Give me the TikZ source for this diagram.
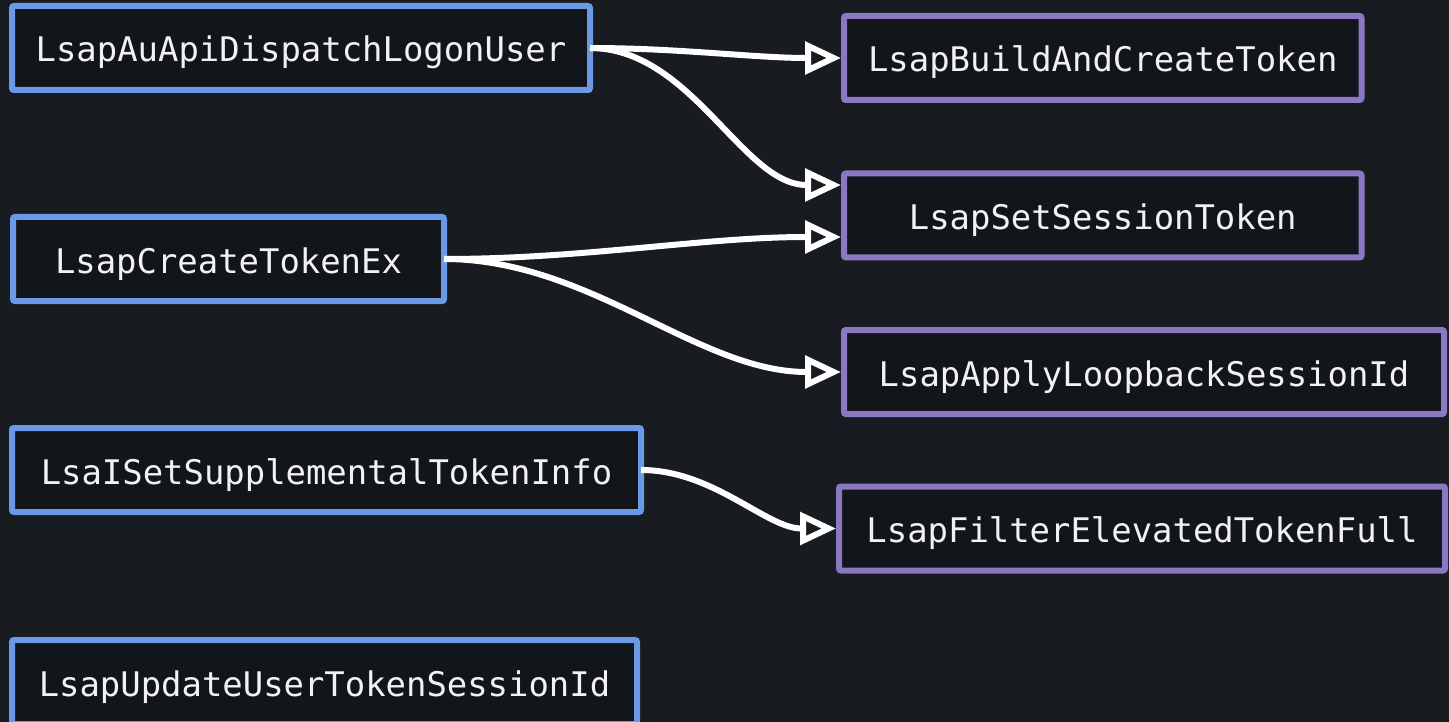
\documentclass[tikz,border=0pt]{standalone}
\usepackage{fontspec}
\setmonofont{DejaVu Sans Mono}
\usetikzlibrary{arrows.meta}
\definecolor{bg}{HTML}{181B1F}
\definecolor{boxfill}{HTML}{121519}
\definecolor{blueb}{HTML}{6A9AE6}
\definecolor{purpleb}{HTML}{8A78C2}
\definecolor{txt}{HTML}{F2F2F2}
\begin{document}
\begin{tikzpicture}[x=1pt,y=-1pt,
 box/.style={rectangle, rounded corners=2pt, line width=6pt, fill=boxfill, text=txt, inner sep=0pt, outer sep=0pt, minimum height=84pt, text height=28pt, text depth=0pt, font=\fontsize{33.9}{40}\selectfont\ttfamily},
 src/.style={box, draw=blueb},
 dst/.style={box, draw=purpleb},
 link/.style={draw=white, line width=6pt, -{Triangle[open, length=36pt, width=32pt]}, shorten >=3pt}
]
\fill[bg] (0,0) rectangle (1449,722);
\useasboundingbox (0,0) rectangle (1449,722);
\node[src, minimum width=578pt] (a) at (301,48) {LsapAuApiDispatchLogonUser};
\node[src, minimum width=431pt] (b) at (228.5,259) {LsapCreateTokenEx};
\node[src, minimum width=629pt] (c) at (326.5,470) {LsaISetSupplementalTokenInfo};
\node[src, minimum width=625pt] (d) at (324.5,682) {LsapUpdateUserTokenSessionId};
\node[dst, minimum width=517.5pt] (r1) at (1102.75,58) {LsapBuildAndCreateToken};
\node[dst, minimum width=517.5pt] (r2) at (1102.75,215.5) {LsapSetSessionToken};
\node[dst, minimum width=600pt] (r3) at (1144,372) {LsapApplyLoopbackSessionId};
\node[dst, minimum width=606pt] (r4) at (1142,528.5) {LsapFilterElevatedTokenFull};
\draw[link] (a.east) to[out=0,in=180,looseness=0.9] (r1.west);
\draw[link] (a.east) to[out=0,in=180,looseness=0.9] ([yshift=30.5pt]r2.west);
\draw[link] (b.east) to[out=0,in=180,looseness=0.9] ([yshift=-21.5pt]r2.west);
\draw[link] (b.east) to[out=0,in=180,looseness=0.9] (r3.west);
\draw[link] (c.east) to[out=0,in=180,looseness=0.9] (r4.west);
\end{tikzpicture}
\end{document}
